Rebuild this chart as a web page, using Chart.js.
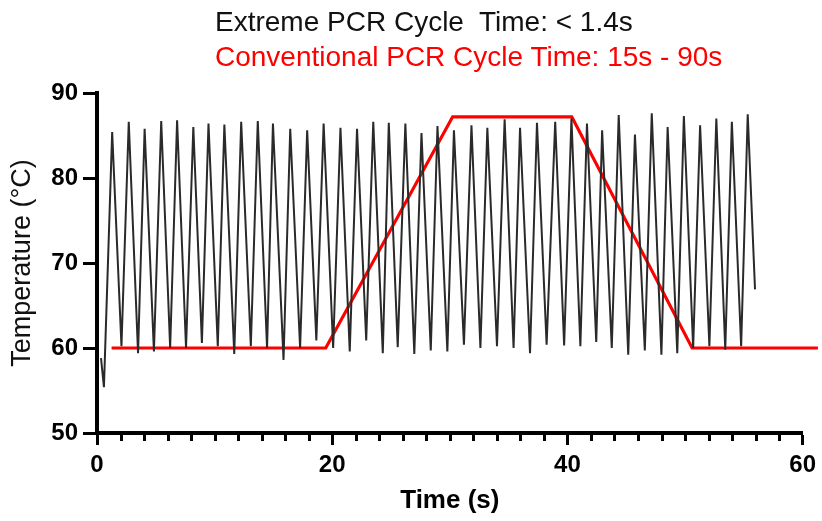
<!DOCTYPE html>
<html>
<head>
<meta charset="utf-8">
<script src="https://cdn.jsdelivr.net/npm/chart.js@4.4.1/dist/chart.umd.min.js"></script>
<style>
  html,body{margin:0;padding:0;background:#fff}
  #wrap{position:relative;width:822px;height:521px}
  .ttl{position:absolute;left:215px;font-family:Arial,"Liberation Sans",sans-serif;font-size:28px;line-height:32px;white-space:pre}
  #t1{top:6px;color:#111}
  #t2{top:41px;color:#ff0000}
</style>
</head>
<body>
<div id="wrap">
  <canvas id="pcr" width="822" height="521"></canvas>
  <div class="ttl" id="t1">Extreme PCR Cycle  Time: &lt; 1.4s</div>
  <div class="ttl" id="t2">Conventional PCR Cycle Time: 15s - 90s</div>
</div>
<script>
// extreme PCR trace: turning points (s, °C)
const extremeTime = [
  0.34, 0.59, 1.29, 2.08, 2.70, 3.49, 4.05, 4.84, 5.46, 6.22, 6.81, 7.57, 8.19, 8.92,
  9.48, 10.27, 10.83, 11.67, 12.26, 13.08, 13.67, 14.46, 14.96, 15.86, 16.43, 17.27,
  17.87, 18.65, 19.27, 20.08, 20.70, 21.49, 22.11, 22.89, 23.49, 24.30, 24.81, 25.57,
  26.22, 26.98, 27.59, 28.38, 28.95, 29.79, 30.35, 31.20, 31.84, 32.60, 33.19, 34.01,
  34.66, 35.42, 35.97, 36.82, 37.41, 38.23, 38.96, 39.72, 40.34, 41.10, 41.66, 42.45,
  42.95, 43.77, 44.36, 45.17, 45.74, 46.58, 47.17, 47.99, 48.52, 49.34, 49.90, 50.69,
  51.28, 52.07, 52.66, 53.42, 53.98, 54.77, 55.33, 55.95
];
const extremeTemp = [
  58.8, 55.4, 85.4, 60.2, 86.6, 59.4, 85.8, 59.6, 86.7, 60.0, 86.8, 60.0, 86.0, 60.6,
  86.4, 60.2, 86.3, 59.3, 86.6, 60.2, 86.7, 60.0, 86.4, 58.6, 85.8, 60.0, 85.6, 60.9,
  86.4, 60.0, 85.9, 59.6, 85.8, 60.9, 86.6, 59.4, 86.5, 60.1, 86.4, 59.3, 85.3, 59.7,
  86.1, 59.6, 85.6, 60.4, 86.2, 60.0, 85.9, 60.2, 86.9, 60.0, 85.9, 59.4, 86.5, 60.4,
  86.6, 60.3, 87.0, 60.2, 86.4, 60.7, 85.6, 60.0, 87.4, 59.2, 85.1, 59.7, 87.6, 59.2,
  86.0, 59.4, 87.3, 60.0, 86.2, 60.2, 87.0, 59.8, 86.6, 60.2, 87.5, 66.9
];

// conventional PCR profile
const convTime = [1.24, 19.45, 30.24, 40.37, 50.6, 61.3];
const convTemp = [60, 60, 87.2, 87.2, 60, 60];

const xTicks = [0, 20, 40, 60];
const yTicks = [50, 60, 70, 80, 90];

const FONT = 'Arial, "Liberation Sans", sans-serif';
Chart.defaults.font.family = FONT;
Chart.defaults.color = '#000';

function pts(xs, ys){ return xs.map((x,i)=>({x, y: ys[i]})); }

// small ticks every 2 s under the x axis
const minorTicks = {
  id: 'minorTicks',
  afterDraw(chart){
    const xs = chart.scales.x, ctx = chart.ctx;
    const y0 = chart.chartArea.bottom;
    ctx.save();
    ctx.strokeStyle = '#000';
    ctx.lineWidth = 3;
    for(let v = xs.min; v <= xs.max; v += 2){
      if(xTicks.includes(v)) continue;
      const px = Math.round(xs.getPixelForValue(v)) + 0.5;
      ctx.beginPath();
      ctx.moveTo(px, y0 + 2);
      ctx.lineTo(px, y0 + 8);
      ctx.stroke();
    }
    ctx.restore();
  }
};

new Chart(document.getElementById('pcr'), {
  type: 'line',
  data: {
    datasets: [
      {
        label: 'Extreme PCR',
        data: pts(extremeTime, extremeTemp),
        borderColor: '#2a2a2a',
        borderWidth: 2,
        pointRadius: 0,
        tension: 0
      },
      {
        label: 'Conventional PCR',
        data: pts(convTime, convTemp),
        borderColor: '#ff0000',
        borderWidth: 3.2,
        pointRadius: 0,
        tension: 0,
        clip: false
      }
    ]
  },
  options: {
    responsive: false,
    animation: false,
    events: [],
    layout: { padding: { top: 93, right: 14, left: 0, bottom: 0 } },
    plugins: { legend: { display: false }, tooltip: { enabled: false } },
    scales: {
      x: {
        type: 'linear',
        min: 0, max: 60,
        afterBuildTicks: s => { s.ticks = xTicks.map(v => ({ value: v })); },
        ticks: { color: '#000', font: { size: 24, weight: 'bold' }, padding: 6, maxRotation: 0 },
        grid: { drawOnChartArea: false, drawTicks: true, tickLength: 12, tickWidth: 3, tickColor: '#000' },
        border: { display: true, color: '#000', width: 4 },
        title: { display: true, text: 'Time (s)', color: '#000', font: { size: 26, weight: 'bold' }, padding: { top: 0, bottom: 5 } },
        afterFit: s => { s.height = 88; }
      },
      y: {
        min: 50, max: 90,
        afterBuildTicks: s => { s.ticks = yTicks.map(v => ({ value: v })); },
        ticks: { color: '#000', font: { size: 24, weight: 'bold' }, padding: 5 },
        grid: { drawOnChartArea: false, drawTicks: true, tickLength: 14, tickWidth: 3, tickColor: '#000' },
        border: { display: true, color: '#000', width: 4 },
        title: { display: true, text: 'Temperature (°C)', color: '#111', font: { size: 27, weight: 'normal' }, padding: { top: 6, bottom: 0 } },
        afterFit: s => { s.width = 97; }
      }
    }
  },
  plugins: [minorTicks]
});
</script>
</body>
</html>
